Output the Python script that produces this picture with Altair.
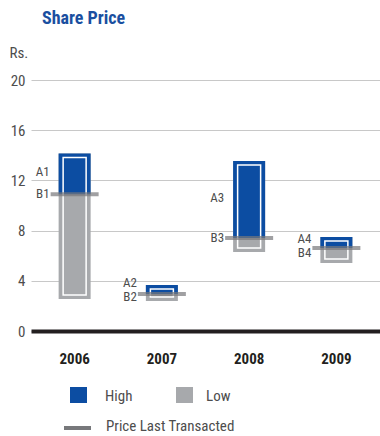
import altair as alt
import pandas as pd

years = ["2006", "2007", "2008", "2009"]
high = [14.15, 3.67, 13.55, 7.49]
low = [2.55, 2.39, 6.3, 5.42]
last_price = [10.9, 2.95, 7.41, 6.61]
a_labels = ["A1", "A2", "A3", "A4"]
a_label_y = [12.7, 3.8, 10.6, 7.3]
b_labels = ["B1", "B2", "B3", "B4"]
b_label_y = [10.9, 2.7, 7.4, 6.2]
y_ticks = [0, 4, 8, 12, 16, 20]

BLUE = "#0c4da2"
GRAY = "#a7a9ac"
LINE = "#77787b"
FONT = "Liberation Sans Narrow, Roboto Condensed, Roboto, sans-serif"

df = pd.DataFrame({"year": years, "high": high, "low": low, "last": last_price,
                   "a": a_labels, "ay": a_label_y, "b": b_labels, "by": b_label_y})

x = alt.X("year:N", title=None,
          scale=alt.Scale(paddingInner=0, paddingOuter=0),
          axis=alt.Axis(labelAngle=0, labelFont=FONT, labelFontSize=15, labelFontWeight="bold",
                        labelColor="#231f20", labelPadding=20, ticks=False,
                        domainColor="#231f20", domainWidth=4, grid=False))
yscale = alt.Scale(domain=[0, 20], nice=False)
yaxis = alt.Axis(values=y_ticks, grid=True, gridColor="#c8c8c8", gridWidth=1, domain=False,
                 ticks=False, labelFont=FONT, labelFontSize=15, labelColor="#4d4d4d",
                 labelPadding=6, title="Rs.", titleAngle=0, titleAlign="left",
                 titleBaseline="alphabetic", titleX=-22, titleY=-23, titleFont=FONT,
                 titleFontSize=15, titleFontWeight="normal", titleColor="#4d4d4d")

base = alt.Chart(df)
gray_bar = base.mark_bar(size=32, color=GRAY).encode(
    x=x, y=alt.Y("low:Q", scale=yscale, axis=yaxis), y2="high:Q")
blue_bar = base.mark_bar(size=32, color=BLUE).encode(x=x, y="last:Q", y2="high:Q")
outline = base.mark_bar(size=23, fillOpacity=0, stroke="white", strokeWidth=1.5,
                        yOffset=4, y2Offset=-4).encode(x=x, y="high:Q", y2="low:Q")
tick = base.mark_tick(size=48, thickness=4, color=LINE, orient="horizontal").encode(
    x=x, y="last:Q")
a_text = base.mark_text(align="right", baseline="middle", dx=-25, font=FONT,
                        fontSize=13, color="#4d4d4d").encode(x=x, y="ay:Q", text="a:N")
b_text = base.mark_text(align="right", baseline="middle", dx=-25, font=FONT,
                        fontSize=13, color="#4d4d4d").encode(x=x, y="by:Q", text="b:N")

one = pd.DataFrame({"t": ["Share Price"]})
title = alt.Chart(one).mark_text(align="left", baseline="alphabetic", font=FONT,
                                 fontSize=18, fontWeight="bold", color="#1a4fa0").encode(
    x=alt.value(11), y=alt.value(-56), text="t:N")

leg_high = alt.Chart(pd.DataFrame({"n": ["High"]})).mark_rect(color=BLUE).encode(
    x=alt.value(39), x2=alt.value(56), y=alt.value(307), y2=alt.value(323))
leg_low = alt.Chart(pd.DataFrame({"n": ["Low"]})).mark_rect(color=GRAY).encode(
    x=alt.value(145), x2=alt.value(162), y=alt.value(307), y2=alt.value(323))
leg_line = alt.Chart(pd.DataFrame({"n": ["Price Last Transacted"]})).mark_rect(color=LINE).encode(
    x=alt.value(33), x2=alt.value(60), y=alt.value(346), y2=alt.value(350))
tstyle = dict(align="left", baseline="alphabetic", font=FONT, fontSize=15, color="#4d4d4d")
t_high = alt.Chart(pd.DataFrame({"n": ["High"]})).mark_text(**tstyle).encode(
    x=alt.value(74), y=alt.value(321), text="n:N")
t_low = alt.Chart(pd.DataFrame({"n": ["Low"]})).mark_text(**tstyle).encode(
    x=alt.value(175), y=alt.value(321), text="n:N")
t_line = alt.Chart(pd.DataFrame({"n": ["Price Last Transacted"]})).mark_text(**tstyle).encode(
    x=alt.value(75), y=alt.value(351), text="n:N")

chart = alt.layer(gray_bar, blue_bar, outline, tick, a_text, b_text, title,
                  leg_high, leg_low, leg_line, t_high, t_low, t_line).properties(
    width=349, height=251,
    autosize=alt.AutoSizeParams(type="none"),
    padding={"left": 31, "top": 80, "right": 0, "bottom": 105},
    background="white",
).configure_view(stroke=None)

chart.save("out.html", embed_options={"renderer": "svg", "actions": False})
